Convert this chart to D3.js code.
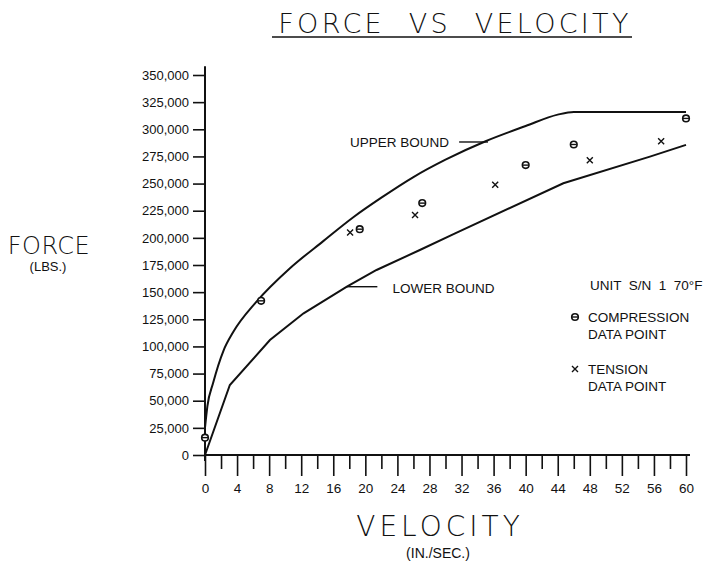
<!DOCTYPE html>
<html>
<head>
<meta charset="utf-8">
<script src="https://cdn.jsdelivr.net/npm/d3@7/dist/d3.min.js"></script>
<style>
  body { margin: 0; background: #fff; }
  text { font-family: "Liberation Sans", Arial, sans-serif; fill: #111; }
  .thin { font-family: "DejaVu Sans", sans-serif; font-weight: 200; }
</style>
</head>
<body>
<div id="chart"></div>
<script>
// velocity (in/sec) and force (lbs)
var compressionV = [0, 7, 19.3, 27.1, 40, 46, 60];
var compressionF = [16000, 142000, 208000, 232000, 267000, 286000, 310000];

var tensionV = [18.1, 26.2, 36.2, 48, 56.9];
var tensionF = [205000, 221000, 249000, 271500, 289000];

var upperV = [0, 0.3, 1, 2.3, 3.5, 6.4, 10.6, 14.75, 18.5, 22, 26, 30, 35, 40, 44, 46, 60];
var upperF = [25000, 45000, 66000, 96000, 113000, 141000, 172000, 197000, 219000, 237000, 256000, 272000, 289000, 303000, 313500, 316000, 316000];

var lowerV = [0, 3.1, 8.1, 12.3, 17.7, 21.4, 26.8, 31.2, 44.7, 55.5, 60];
var lowerF = [0, 64500, 105900, 130500, 155000, 170400, 188800, 204200, 250300, 274800, 285600];

var yTicks = d3.range(0, 350001, 25000);
var xTicks = d3.range(0, 61, 2);

var width = 722, height = 573;

var svg = d3.select("#chart")
  .append("svg")
  .attr("width", width)
  .attr("height", height);

var x = d3.scaleLinear().domain([0, 60]).range([205, 686]);
var y = d3.scaleLinear().domain([0, 350000]).range([455, 75]);

// title
svg.append("text")
  .attr("class", "thin")
  .attr("x", 455).attr("y", 33)
  .attr("text-anchor", "middle")
  .style("font-size", "27px")
  .style("letter-spacing", "3.3px")
  .style("white-space", "pre")
  .text("FORCE  VS  VELOCITY");
svg.append("line")
  .attr("x1", 272).attr("x2", 632)
  .attr("y1", 37).attr("y2", 37)
  .attr("stroke", "#111").attr("stroke-width", 1.6);

// y axis
var yAxis = d3.axisLeft(y)
  .tickValues(yTicks)
  .tickFormat(d3.format(","))
  .tickSize(12)
  .tickPadding(4);

var gy = svg.append("g")
  .attr("transform", "translate(" + x(0) + ",0)")
  .call(yAxis);
gy.select(".domain").remove();
gy.selectAll(".tick line").attr("stroke", "#111").attr("stroke-width", 1.6);
gy.selectAll(".tick text")
  .style("font-family", "'Liberation Sans', Arial, sans-serif")
  .style("font-size", "13px")
  .attr("fill", "#111");
svg.append("line")
  .attr("x1", x(0)).attr("x2", x(0))
  .attr("y1", y(0) + 6).attr("y2", y(358000))
  .attr("stroke", "#111").attr("stroke-width", 2);

// x axis: long ticks every 4, short ones between
var xAxis = d3.axisBottom(x)
  .tickValues(xTicks)
  .tickFormat(function(d) { return d % 4 === 0 ? d : ""; })
  .tickSize(20)
  .tickPadding(8);

var gx = svg.append("g")
  .attr("transform", "translate(0," + y(0) + ")")
  .call(xAxis);
gx.select(".domain").remove();
gx.selectAll(".tick line")
  .attr("stroke", "#111").attr("stroke-width", 1.6)
  .attr("y2", function(d) { return d % 4 === 0 ? 21 : 14; });
gx.selectAll(".tick text")
  .style("font-family", "'Liberation Sans', Arial, sans-serif")
  .style("font-size", "13.5px")
  .attr("fill", "#111");
svg.append("line")
  .attr("x1", x(0) - 1).attr("x2", x(60) + 4)
  .attr("y1", y(0)).attr("y2", y(0))
  .attr("stroke", "#111").attr("stroke-width", 2);

// axis titles
svg.append("text").attr("class", "thin")
  .attr("x", 49).attr("y", 254).attr("text-anchor", "middle")
  .style("font-size", "24px").style("letter-spacing", "0.5px").text("FORCE");
svg.append("text")
  .attr("x", 48).attr("y", 271).attr("text-anchor", "middle")
  .style("font-size", "13px").text("(LBS.)");
svg.append("text").attr("class", "thin")
  .attr("x", 440).attr("y", 536).attr("text-anchor", "middle")
  .style("font-size", "28px").style("letter-spacing", "4px").text("VELOCITY");
svg.append("text")
  .attr("x", 438).attr("y", 558).attr("text-anchor", "middle")
  .style("font-size", "14px").text("(IN./SEC.)");

// bound curves
var line = d3.line()
  .x(function(d) { return x(d[0]); })
  .y(function(d) { return y(d[1]); })
  .curve(d3.curveMonotoneX);

var upper = d3.zip(upperV, upperF);
var lower = d3.zip(lowerV, lowerF);

svg.append("path").datum(upper)
  .attr("d", line)
  .attr("fill", "none").attr("stroke", "#111").attr("stroke-width", 2);
svg.append("path").datum(lower)
  .attr("d", line.curve(d3.curveLinear))
  .attr("fill", "none").attr("stroke", "#111").attr("stroke-width", 2);

// bound labels with leader lines
svg.append("text")
  .attr("x", x(18.1)).attr("y", y(288300) + 5)
  .style("font-size", "13.5px").text("UPPER BOUND");
svg.append("line")
  .attr("x1", x(31.7)).attr("x2", x(35.3))
  .attr("y1", y(288300)).attr("y2", y(288300))
  .attr("stroke", "#111").attr("stroke-width", 1.4);

svg.append("text")
  .attr("x", x(23.4)).attr("y", y(155000) + 6)
  .style("font-size", "13.5px").text("LOWER BOUND");
svg.append("line")
  .attr("x1", x(17.6)).attr("x2", x(21.5))
  .attr("y1", y(155000)).attr("y2", y(155000))
  .attr("stroke", "#111").attr("stroke-width", 1.4);

// data points
function compMark(g) {
  g.append("circle").attr("r", 3.3)
    .attr("fill", "#fff").attr("stroke", "#111").attr("stroke-width", 1.6);
  g.append("line").attr("x1", -3).attr("x2", 3)
    .attr("stroke", "#111").attr("stroke-width", 1.4);
}
function tensMark(g) {
  g.append("path").attr("d", "M-3,-3L3,3M-3,3L3,-3")
    .attr("stroke", "#111").attr("stroke-width", 1.4);
}

svg.selectAll(".comp")
  .data(d3.zip(compressionV, compressionF))
  .enter().append("g")
  .attr("class", "comp")
  .attr("transform", function(d) { return "translate(" + x(d[0]) + "," + y(d[1]) + ")"; })
  .call(compMark);

svg.selectAll(".tens")
  .data(d3.zip(tensionV, tensionF))
  .enter().append("g")
  .attr("class", "tens")
  .attr("transform", function(d) { return "translate(" + x(d[0]) + "," + y(d[1]) + ")"; })
  .call(tensMark);

// legend
var lg = svg.append("g").attr("transform", "translate(575,0)");
lg.append("text").attr("x", 15).attr("y", 290)
  .style("font-size", "13.5px").style("white-space", "pre").text("UNIT  S/N  1  70°F");
lg.append("g").attr("transform", "translate(0,317)").call(compMark);
lg.append("text").attr("x", 13).attr("y", 322)
  .style("font-size", "13.5px").text("COMPRESSION");
lg.append("text").attr("x", 13).attr("y", 339)
  .style("font-size", "13.5px").text("DATA POINT");
lg.append("g").attr("transform", "translate(0,369)").call(tensMark);
lg.append("text").attr("x", 13).attr("y", 374)
  .style("font-size", "13.5px").text("TENSION");
lg.append("text").attr("x", 13).attr("y", 391)
  .style("font-size", "13.5px").text("DATA POINT");
</script>
</body>
</html>
